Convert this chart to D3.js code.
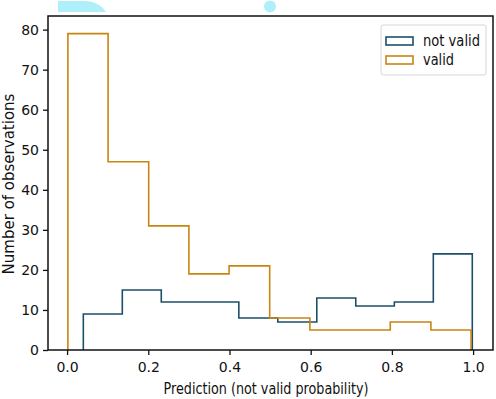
<!DOCTYPE html>
<html>
<head>
<meta charset="utf-8">
<script src="https://cdn.jsdelivr.net/npm/d3@7"></script>
<style>
  body { margin: 0; background: #fff; }
  text { font-family: "DejaVu Sans", sans-serif; fill: #111; }
</style>
</head>
<body>
<svg id="drawing_region"></svg>
<script>
// histogram bin edges and counts
const notValidEdges = [0.040, 0.136, 0.232, 0.327, 0.423, 0.519, 0.615, 0.711, 0.806, 0.902, 0.998];
const notValidCounts = [9, 15, 12, 12, 8, 7, 13, 11, 12, 24];
const validEdges = [0.002, 0.101, 0.201, 0.300, 0.399, 0.499, 0.598, 0.697, 0.796, 0.896, 0.995];
const validCounts = [79, 47, 31, 19, 21, 8, 5, 5, 7, 5];
const seriesNames = ['not valid', 'valid'];
const xTicks = [0.0, 0.2, 0.4, 0.6, 0.8, 1.0];
const yTicks = [0, 10, 20, 30, 40, 50, 60, 70, 80];

const colors = { 'not valid': '#1d5068', 'valid': '#c98512' };

const config = {
    width: 496,
    height: 399,
    margin: {top: 16, right: 3, bottom: 49, left: 48}
};

const svg = d3.select('#drawing_region')
    .attr('width', config.width)
    .attr('height', config.height);

const inner_width = config.width - config.margin.left - config.margin.right;
const inner_height = config.height - config.margin.top - config.margin.bottom;

const chart = svg.append('g')
    .attr('transform', `translate(${config.margin.left}, ${config.margin.top})`);

const xscale = d3.scaleLinear()
    .domain([-0.047, 1.049])
    .range([0, inner_width]);

const yscale = d3.scaleLinear()
    .domain([0, 83.4])
    .range([inner_height, 0]);

// step outline like matplotlib histtype='step'
function stepPoints(edges, counts) {
    const pts = [[edges[0], 0]];
    counts.forEach((c, i) => {
        pts.push([edges[i], c]);
        pts.push([edges[i + 1], c]);
    });
    pts.push([edges[edges.length - 1], 0]);
    return pts;
}

const line = d3.line()
    .x(d => xscale(d[0]))
    .y(d => yscale(d[1]));

const series = [
    {name: 'not valid', pts: stepPoints(notValidEdges, notValidCounts)},
    {name: 'valid', pts: stepPoints(validEdges, validCounts)}
];

chart.selectAll('path.hist')
    .data(series)
    .join('path')
    .attr('class', 'hist')
    .attr('d', d => line(d.pts))
    .attr('fill', 'none')
    .attr('stroke', d => colors[d.name])
    .attr('stroke-width', 1.6);

// axes
const xaxis = d3.axisBottom(xscale)
    .tickValues(xTicks)
    .tickFormat(d3.format('.1f'))
    .tickSize(5)
    .tickPadding(7);

const yaxis = d3.axisLeft(yscale)
    .tickValues(yTicks)
    .tickSize(5)
    .tickPadding(4);

const xaxis_group = chart.append('g')
    .attr('transform', `translate(0, ${inner_height})`)
    .call(xaxis);

const yaxis_group = chart.append('g')
    .call(yaxis);

[xaxis_group, yaxis_group].forEach(g => {
    g.select('.domain').remove();
    g.selectAll('.tick line').attr('stroke', '#111').attr('stroke-width', 1.3);
    g.selectAll('.tick text')
        .attr('font-size', 14)
        .attr('font-family', '"DejaVu Sans", sans-serif')
        .attr('fill', '#111');
});

// frame
chart.append('rect')
    .attr('width', inner_width)
    .attr('height', inner_height)
    .attr('fill', 'none')
    .attr('stroke', '#111')
    .attr('stroke-width', 1.5);

// labels
svg.append('text')
    .attr('text-anchor', 'middle')
    .attr('x', 266)
    .attr('y', 394)
    .attr('font-size', 15)
    .attr('textLength', 205)
    .attr('lengthAdjust', 'spacingAndGlyphs')
    .text('Prediction (not valid probability)');

svg.append('text')
    .attr('text-anchor', 'middle')
    .attr('transform', 'rotate(-90)')
    .attr('x', -184)
    .attr('y', 14)
    .attr('font-size', 15)
    .text('Number of observations');

// legend
const legend = svg.append('g')
    .attr('transform', 'translate(381, 25)');

legend.append('rect')
    .attr('width', 105)
    .attr('height', 50)
    .attr('rx', 2)
    .attr('fill', '#fff')
    .attr('stroke', '#d6d6d6')
    .attr('stroke-width', 1);

const items = legend.selectAll('g.item')
    .data(seriesNames)
    .join('g')
    .attr('class', 'item')
    .attr('transform', (d, i) => `translate(5, ${12 + i * 19})`);

items.append('rect')
    .attr('width', 27)
    .attr('height', 8)
    .attr('fill', 'none')
    .attr('stroke', d => colors[d])
    .attr('stroke-width', 1.6);

items.append('text')
    .attr('x', 37)
    .attr('y', 9)
    .attr('font-size', 15)
    .attr('textLength', (d, i) => i === 0 ? 57 : 31)
    .attr('lengthAdjust', 'spacingAndGlyphs')
    .text(d => d);

// light cyan smudges along the top edge of the image
svg.append('path')
    .attr('d', 'M58,1 L58,12 L106,12 C101,5 95,1 84,1 Z')
    .attr('fill', '#aeeffa');

svg.append('circle')
    .attr('cx', 270)
    .attr('cy', 6.5)
    .attr('r', 6)
    .attr('fill', '#aeeffa');
</script>
</body>
</html>
